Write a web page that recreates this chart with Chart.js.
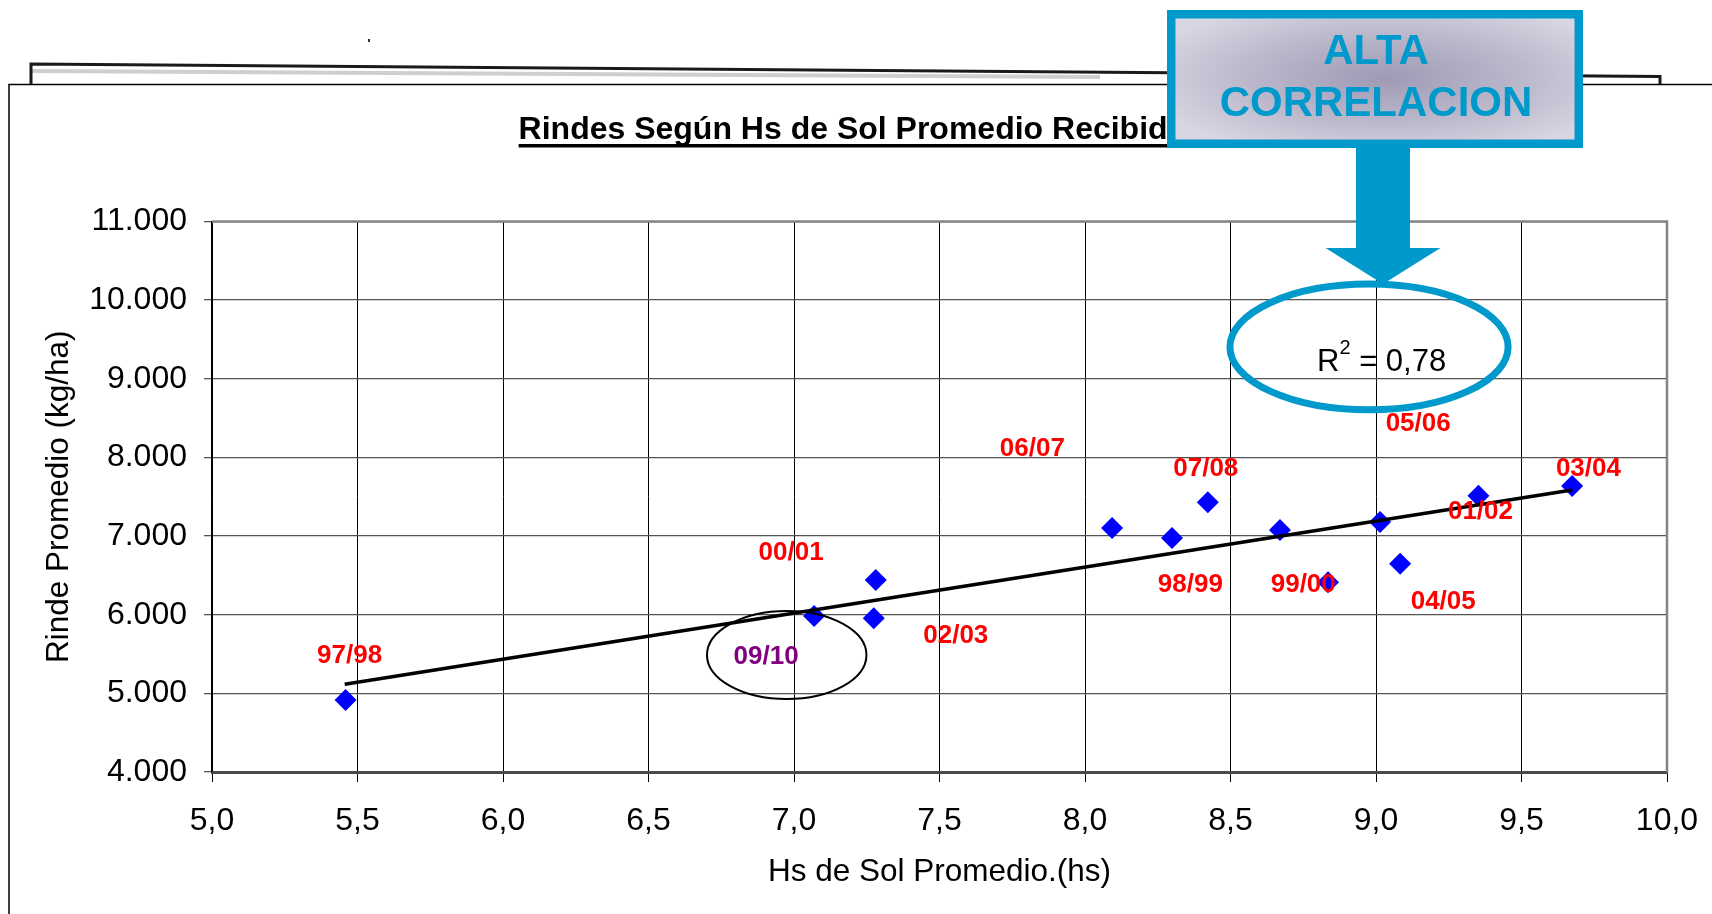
<!DOCTYPE html>
<html><head><meta charset="utf-8">
<script src="https://cdn.jsdelivr.net/npm/chart.js@4/dist/chart.umd.min.js"></script>
<style>html,body{margin:0;padding:0;background:#fff;}canvas{display:block;}</style>
</head><body>
<canvas id="c" width="1712" height="914"></canvas>
<script>
// ---- data ----
const hsSol = [5.459, 7.069, 7.274, 7.281, 8.093, 8.299, 8.422, 8.670, 8.835, 9.014, 9.083, 9.352, 9.674];
const rinde = [4916, 5984, 5955, 6442, 7104, 6977, 7430, 7078, 6413, 7180, 6649, 7514, 7637];
const trendX = [5.456, 9.674];
const trendY = [5115, 7587];
const campanas = ['97/98','00/01','09/10','02/03','06/07','07/08','98/99','99/00','05/06','04/05','01/02','03/04'];
const campanaX = [5.473, 6.990, 6.904, 7.556, 7.819, 8.415, 8.362, 8.750, 9.145, 9.231, 9.359, 9.730];
const campanaY = [5473, 6782, 5466, 5730, 8112, 7850, 6378, 6378, 8422, 6166, 7303, 7850];
const xTicks = [5, 5.5, 6, 6.5, 7, 7.5, 8, 8.5, 9, 9.5, 10];
const xTickLabels = ['5,0','5,5','6,0','6,5','7,0','7,5','8,0','8,5','9,0','9,5','10,0'];
const yTicks = [4000, 5000, 6000, 7000, 8000, 9000, 10000, 11000];
const yTickLabels = ['4.000','5.000','6.000','7.000','8.000','9.000','10.000','11.000'];
const r2Value = '0,78';
const tituloTexto = 'Rindes Según Hs de Sol Promedio Recibidas';
const calloutLines = ['ALTA', 'CORRELACION'];

const FONT = "'Liberation Sans', Arial, sans-serif";
const BLUE = 'rgb(0,153,204)';

const annot = {
  id: 'annot',
  afterDraw(chart) {
    const ctx = chart.ctx;
    const xs = chart.scales.x, ys = chart.scales.y;
    const px = v => xs.getPixelForValue(v), py = v => ys.getPixelForValue(v);
    ctx.save();
    // plot border (top/right gray)
    const ca = chart.chartArea;
    ctx.strokeStyle = '#858585'; ctx.lineWidth = 2.5;
    ctx.beginPath(); ctx.moveTo(ca.left, ca.top); ctx.lineTo(ca.right, ca.top); ctx.lineTo(ca.right, ca.bottom); ctx.stroke();

    // campaign labels
    ctx.font = 'bold 26px ' + FONT;
    ctx.textAlign = 'center'; ctx.textBaseline = 'middle';
    campanas.forEach((t, i) => {
      ctx.fillStyle = t === '09/10' ? '#800080' : '#FF0000';
      ctx.fillText(t, px(campanaX[i]), py(campanaY[i]));
    });

    // black ellipse around 09/10
    ctx.strokeStyle = '#000'; ctx.lineWidth = 2;
    ctx.beginPath();
    ctx.ellipse(px(6.975), py(5488), px(6.975 + 0.274) - px(6.975), py(5488) - py(5488 + 560), 0, 0, Math.PI * 2);
    ctx.stroke();

    // blue ellipse around R²
    const ecx = px(8.976), ecy = py(9405);
    ctx.strokeStyle = BLUE; ctx.lineWidth = 7;
    ctx.beginPath();
    ctx.ellipse(ecx, ecy, px(8.976 + 0.478) - ecx, ecy - py(9405 + 800), 0, 0, Math.PI * 2);
    ctx.stroke();

    // R² text
    ctx.fillStyle = '#000'; ctx.textAlign = 'left'; ctx.textBaseline = 'alphabetic';
    let tx = ecx - 52, ty = ecy + 24;
    ctx.font = '31px ' + FONT;
    ctx.fillText('R', tx, ty);
    tx += ctx.measureText('R').width;
    ctx.font = '20px ' + FONT;
    ctx.fillText('2', tx, ty - 17);
    tx += ctx.measureText('2').width;
    ctx.font = '31px ' + FONT;
    ctx.fillText(' = ' + r2Value, tx, ty);

    // page frame (scanned slide border)
    ctx.strokeStyle = '#000'; ctx.lineWidth = 1.5;
    ctx.beginPath(); ctx.moveTo(9, 914); ctx.lineTo(9, 84.5); ctx.lineTo(1712, 84.5); ctx.stroke();
    ctx.strokeStyle = '#cfcfcf'; ctx.lineWidth = 4;
    ctx.beginPath(); ctx.moveTo(32, 71); ctx.lineTo(1100, 77); ctx.stroke();
    ctx.strokeStyle = '#1a1a1a'; ctx.lineWidth = 3;
    ctx.beginPath(); ctx.moveTo(31, 84); ctx.lineTo(31, 64); ctx.lineTo(1660, 76.5); ctx.lineTo(1660, 84); ctx.stroke();
    ctx.fillStyle = '#333'; ctx.fillRect(368, 39, 2, 3);

    // title
    ctx.fillStyle = '#000'; ctx.font = 'bold 32px ' + FONT;
    ctx.textAlign = 'left'; ctx.textBaseline = 'alphabetic';
    const tX = 518.6, tY = 139;
    ctx.fillText(tituloTexto, tX, tY);
    const tw = ctx.measureText(tituloTexto).width;
    ctx.fillRect(tX, tY + 5, tw, 3.5);

    // arrow
    ctx.fillStyle = BLUE;
    ctx.fillRect(1356, 140, 54, 110);
    ctx.beginPath(); ctx.moveTo(1325.5, 248); ctx.lineTo(1440.5, 248); ctx.lineTo(1383, 284); ctx.closePath(); ctx.fill();

    // callout box
    const bx = 1167, by = 10, bw = 416, bh = 138, bb = 8.5;
    ctx.fillStyle = 'rgb(216,214,226)';
    ctx.fillRect(bx, by, bw, bh);
    ctx.save();
    ctx.beginPath(); ctx.rect(bx + bb, by + bb, bw - 2 * bb, bh - 2 * bb); ctx.clip();
    ctx.translate(1385, 78); ctx.scale(1, 0.32);
    const g = ctx.createRadialGradient(0, 0, 0, 0, 0, 250);
    g.addColorStop(0, 'rgb(158,154,181)');
    g.addColorStop(0.6, 'rgb(190,187,206)');
    g.addColorStop(1, 'rgb(216,214,226)');
    ctx.fillStyle = g; ctx.fillRect(-270, -500, 540, 1000);
    ctx.restore();
    ctx.strokeStyle = BLUE; ctx.lineWidth = bb;
    ctx.strokeRect(bx + bb / 2, by + bb / 2, bw - bb, bh - bb);
    ctx.fillStyle = BLUE; ctx.font = 'bold 42px ' + FONT; ctx.textAlign = 'center';
    ctx.fillText(calloutLines[0], 1376, 64);
    ctx.fillText(calloutLines[1], 1376, 116);
    ctx.restore();
  }
};

new Chart(document.getElementById('c'), {
  type: 'scatter',
  data: {
    datasets: [
      { type: 'line', data: trendX.map((x, i) => ({ x, y: trendY[i] })), borderColor: '#000', borderWidth: 3.5,
        pointRadius: 0, fill: false, order: 0, borderCapStyle: 'butt' },
      { data: hsSol.map((x, i) => ({ x, y: rinde[i] })), pointStyle: 'rectRot', pointRadius: 11,
        backgroundColor: '#0000FF', borderColor: '#0000FF', borderWidth: 0, order: 1 }
    ]
  },
  options: {
    responsive: false, animation: false, devicePixelRatio: 1,
    layout: { padding: { left: 0, right: 45, top: 221.5, bottom: 0 } },
    plugins: { legend: { display: false }, tooltip: { enabled: false }, title: { display: false } },
    scales: {
      x: {
        type: 'linear', min: 5, max: 10,
        afterBuildTicks: s => { s.ticks = xTicks.map(v => ({ value: v })); },
        afterFit: s => { s.height = 142; s.paddingLeft = 0; s.paddingRight = 0; },
        ticks: { callback: (v, i) => xTickLabels[i], font: { family: FONT, size: 32 }, color: '#000', padding: 20, maxRotation: 0, autoSkip: false },
        grid: { color: '#000', lineWidth: 1, tickLength: 10 },
        border: { color: '#4a4a4a', width: 3 },
        title: { display: true, text: 'Hs de Sol Promedio.(hs)', font: { family: FONT, size: 31.5 }, color: '#000', padding: { top: 0, bottom: 23 } }
      },
      y: {
        type: 'linear', min: 4000, max: 11000,
        afterBuildTicks: s => { s.ticks = yTicks.map(v => ({ value: v })); },
        afterFit: s => { s.width = 212; s.paddingTop = 0; s.paddingBottom = 0; },
        ticks: { callback: (v, i) => yTickLabels[i], font: { family: FONT, size: 32 }, color: '#000', padding: 17, autoSkip: false },
        grid: { color: '#555', lineWidth: 1.3, tickLength: 8 },
        border: { color: '#000', width: 1.5 },
        title: { display: true, text: 'Rinde Promedio (kg/ha)', font: { family: FONT, size: 31.5 }, color: '#000', padding: { top: 40, bottom: 0 } }
      }
    }
  },
  plugins: [annot]
});
</script>
</body></html>
